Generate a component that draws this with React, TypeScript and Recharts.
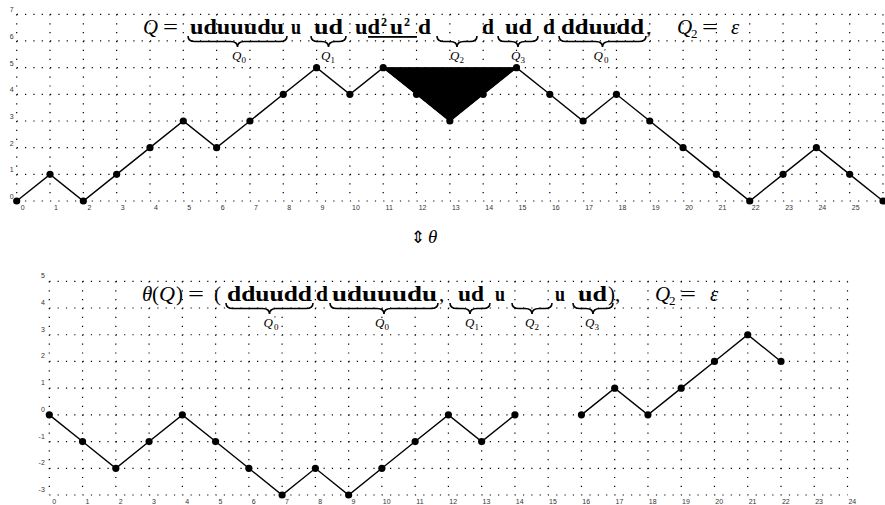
import React from 'react';
import { ComposedChart, Line, Area, XAxis, YAxis, CartesianGrid } from 'recharts';

// ---- Top path Q ----
const topStepX = [0, 1, 2, 3, 4, 5, 6, 7, 8, 9, 10, 11, 12, 13, 14, 15, 16, 17, 18, 19, 20, 21, 22, 23, 24, 25, 26];
const topHeight = [0, 1, 0, 1, 2, 3, 2, 3, 4, 5, 4, 5, 4, 3, 4, 5, 4, 3, 4, 3, 2, 1, 0, 1, 2, 1, 0];
const topXTicks = [0, 1, 2, 3, 4, 5, 6, 7, 8, 9, 10, 11, 12, 13, 14, 15, 16, 17, 18, 19, 20, 21, 22, 23, 24, 25, 26];
const topYTicks = [0, 1, 2, 3, 4, 5, 6, 7];

// filled triangle (x, lower, upper)
const triX = [11, 13, 15];
const triLow = [5, 3, 5];
const triHigh = [5, 5, 5];

// ---- Bottom path theta(Q) ----
const botStepX = [0, 1, 2, 3, 4, 5, 6, 7, 8, 9, 10, 11, 12, 13, 14, 15, 16, 17, 18, 19, 20, 21, 22];
const botHeight: (number | null)[] = [0, -1, -2, -1, 0, -1, -2, -3, -2, -3, -2, -1, 0, -1, 0, null, 0, 1, 0, 1, 2, 3, 2];
const botXTicks = [0, 1, 2, 3, 4, 5, 6, 7, 8, 9, 10, 11, 12, 13, 14, 15, 16, 17, 18, 19, 20, 21, 22, 23, 24];
const botYTicks = [-3, -2, -1, 0, 1, 2, 3, 4, 5];

const topData = topStepX.map((x, i) => ({ x, y: topHeight[i] }));
const triData = triX.map((x, i) => ({ x, band: [triLow[i], triHigh[i]] }));
const botData = botStepX.map((x, i) => ({ x, y: botHeight[i] }));

const tickFont = 'Liberation Sans, Arial, sans-serif';
const serif = 'Liberation Serif, Times New Roman, serif';

const makeXTick = (dx: number, dy: number) => (props: any) => {
  const { x, y, payload } = props;
  return (
    <text x={x + dx} y={y + dy} fontSize={7} textAnchor="middle" fill="#333" fontFamily={tickFont}>
      {payload.value}
    </text>
  );
};
const makeYTick = (dx: number, dy: number) => (props: any) => {
  const { x, y, payload } = props;
  return (
    <text x={x + dx} y={y + dy} fontSize={7} textAnchor="end" fill="#333" fontFamily={tickFont}>
      {payload.value}
    </text>
  );
};

const dotStyle = { r: 3.6, fill: '#000', stroke: '#000', strokeWidth: 0 };

function bracePath(x1: number, x2: number, y: number, h: number) {
  const m = (x1 + x2) / 2;
  const q = h / 2;
  const r = Math.min(7, (x2 - x1) / 4);
  return `M${x1},${y} Q${x1},${y + q} ${x1 + r},${y + q} L${m - r},${y + q} Q${m},${y + q} ${m},${y + h} Q${m},${y + q} ${m + r},${y + q} L${x2 - r},${y + q} Q${x2},${y + q} ${x2},${y}`;
}

const Brace = ({ x1, x2, y }: { x1: number; x2: number; y: number }) => (
  <path d={bracePath(x1, x2, y, 11)} stroke="#000" strokeWidth={1.6} fill="none" />
);

const B = ({ x, y, w, t }: { x: number; y: number; w: number; t: string }) => (
  <text x={x} y={y} textLength={w} lengthAdjust="spacingAndGlyphs" fontWeight="bold" fontSize={21} fontFamily={serif}>
    {t}
  </text>
);

const Lbl = ({ cx, y, sub, prime }: { cx: number; y: number; sub: string; prime?: boolean }) =>
  prime ? (
    <g>
      <text x={cx - 2} y={y} textAnchor="end" fontSize={13} fontStyle="italic" fontFamily={serif}>Q</text>
      <text x={cx - 1} y={y - 5} fontSize={9} fontFamily={serif}>′</text>
      <text x={cx - 1} y={y + 3} fontSize={9} fontFamily={serif}>{sub}</text>
    </g>
  ) : (
    <text x={cx} y={y} textAnchor="middle" fontSize={13} fontStyle="italic" fontFamily={serif}>
      Q<tspan fontStyle="normal" fontSize={9} dy={3}>{sub}</tspan>
    </text>
  );

const Overlay = () => {
  const y1 = 34;
  const yb1 = 36;
  const yl1 = 60;
  const y2 = 301;
  const yb2 = 303;
  const yl2 = 327;
  return (
    <svg width={885} height={505} style={{ position: 'absolute', left: 0, top: 0, pointerEvents: 'none' }}>
      {/* top formula */}
      <text x={143} y={y1} fontSize={21} fontStyle="italic" fontFamily={serif} textLength={15} lengthAdjust="spacingAndGlyphs">Q</text>
      <text x={163} y={y1} fontSize={21} fontFamily={serif} textLength={15} lengthAdjust="spacingAndGlyphs">=</text>
      <B x={190} y={y1} w={94} t="uduuudu" />
      <B x={291} y={y1} w={10} t="u" />
      <B x={314} y={y1} w={29} t="ud" />
      <B x={355} y={y1} w={25} t="ud" />
      <text x={381} y={y1 - 8} fontSize={12} fontWeight="bold" fontFamily={serif}>2</text>
      <B x={390} y={y1} w={13} t="u" />
      <text x={404} y={y1 - 8} fontSize={12} fontWeight="bold" fontFamily={serif}>2</text>
      <B x={418} y={y1} w={13} t="d" />
      <rect x={368} y={36} width={49} height={1.8} fill="#000" />
      <B x={482} y={y1} w={12} t="d" />
      <B x={505} y={y1} w={27} t="ud" />
      <B x={543} y={y1} w={12} t="d" />
      <B x={561} y={y1} w={83} t="dduudd" />
      <text x={646} y={y1} fontSize={21} fontFamily={serif}>,</text>
      <text x={677} y={y1} fontSize={21} fontStyle="italic" fontFamily={serif}>Q</text>
      <text x={691} y={y1 + 4} fontSize={13} fontFamily={serif}>2</text>
      <text x={702} y={y1} fontSize={21} fontFamily={serif} textLength={16} lengthAdjust="spacingAndGlyphs">=</text>
      <text x={731} y={y1} fontSize={21} fontStyle="italic" fontFamily={serif}>ε</text>

      <Brace x1={188} x2={287} y={yb1} />
      <Brace x1={311} x2={346} y={yb1} />
      <Brace x1={437} x2={477} y={yb1} />
      <Brace x1={498} x2={538} y={yb1} />
      <Brace x1={559} x2={646} y={yb1} />
      <Lbl cx={239} y={yl1} sub="0" />
      <Lbl cx={328} y={yl1} sub="1" />
      <Lbl cx={457} y={yl1} sub="2" />
      <Lbl cx={518} y={yl1} sub="3" />
      <Lbl cx={605} y={yl1} sub="0" prime />

      {/* middle arrow */}
      <text x={411} y={243} fontSize={17} fontFamily="DejaVu Sans, sans-serif">⇕</text>
      <text x={428} y={243} fontSize={19} fontStyle="italic" fontFamily={serif}>θ</text>

      {/* bottom formula */}
      <text x={142} y={y2} fontSize={21} fontStyle="italic" fontFamily={serif}>θ</text>
      <text x={152} y={y2} fontSize={21} fontFamily={serif}>(</text>
      <text x={159} y={y2} fontSize={21} fontStyle="italic" fontFamily={serif} textLength={16} lengthAdjust="spacingAndGlyphs">Q</text>
      <text x={176} y={y2} fontSize={21} fontFamily={serif}>)</text>
      <text x={188} y={y2} fontSize={21} fontFamily={serif} textLength={16} lengthAdjust="spacingAndGlyphs">=</text>
      <text x={214} y={y2} fontSize={21} fontFamily={serif}>(</text>
      <B x={227} y={y2} w={85} t="dduudd" />
      <B x={316} y={y2} w={12} t="d" />
      <B x={332} y={y2} w={105} t="uduuudu" />
      <text x={439} y={y2} fontSize={21} fontFamily={serif}>,</text>
      <B x={458} y={y2} w={26} t="ud" />
      <B x={495} y={y2} w={10} t="u" />
      <B x={555} y={y2} w={10} t="u" />
      <B x={578} y={y2} w={29} t="ud" />
      <text x={608} y={y2} fontSize={21} fontFamily={serif}>),</text>
      <text x={655} y={y2} fontSize={21} fontStyle="italic" fontFamily={serif}>Q</text>
      <text x={669} y={y2 + 4} fontSize={13} fontFamily={serif}>2</text>
      <text x={680} y={y2} fontSize={21} fontFamily={serif} textLength={16} lengthAdjust="spacingAndGlyphs">=</text>
      <text x={710} y={y2} fontSize={21} fontStyle="italic" fontFamily={serif}>ε</text>

      <Brace x1={226} x2={313} y={yb2} />
      <Brace x1={330} x2={438} y={yb2} />
      <Brace x1={450} x2={490} y={yb2} />
      <Brace x1={512} x2={552} y={yb2} />
      <Brace x1={573} x2={613} y={yb2} />
      <Lbl cx={275} y={yl2} sub="0" prime />
      <Lbl cx={382} y={yl2} sub="0" />
      <Lbl cx={472} y={yl2} sub="1" />
      <Lbl cx={532} y={yl2} sub="2" />
      <Lbl cx={592} y={yl2} sub="3" />
    </svg>
  );
};

export default function App() {
  return (
    <div style={{ position: 'absolute', left: 0, top: 0, width: 885, height: 505, background: '#fff', overflow: 'hidden' }}>
      <div style={{ position: 'absolute', left: 0, top: 0 }}>
        <ComposedChart width={885} height={230} margin={{ top: 14.3, right: 2, bottom: 0, left: 0 }}>
          <XAxis
            type="number"
            dataKey="x"
            domain={[0, 26]}
            ticks={topXTicks}
            interval={0}
            axisLine={false}
            tickLine={false}
            tickSize={0}
            tickMargin={0}
            height={29}
            tick={makeXTick(6, 8.5)}
          />
          <YAxis
            type="number"
            domain={[0, 7]}
            ticks={topYTicks}
            interval={0}
            axisLine={false}
            tickLine={false}
            tickSize={0}
            tickMargin={0}
            width={16.7}
            tick={makeYTick(-3, -2)}
          />
          <CartesianGrid vertical={false} stroke="#000" strokeWidth={1.2} strokeDasharray="1.2 7.13" />
          <CartesianGrid horizontal={false} stroke="#000" strokeWidth={1.2} strokeDasharray="1.2 7.69" />
          <Area
            data={triData}
            dataKey="band"
            type="linear"
            fill="#000"
            fillOpacity={1}
            stroke="#000"
            strokeWidth={1}
            dot={false}
            activeDot={false}
            isAnimationActive={false}
          />
          <Line
            data={topData}
            dataKey="y"
            type="linear"
            stroke="#000"
            strokeWidth={1.4}
            dot={dotStyle}
            activeDot={false}
            isAnimationActive={false}
          />
        </ComposedChart>
      </div>
      <div style={{ position: 'absolute', left: 0, top: 260 }}>
        <ComposedChart width={885} height={245} margin={{ top: 21.3, right: 37.5, bottom: 0, left: 0 }}>
          <XAxis
            type="number"
            dataKey="x"
            domain={[0, 24]}
            ticks={botXTicks}
            interval={0}
            axisLine={false}
            tickLine={false}
            tickSize={0}
            tickMargin={0}
            height={10}
            tick={makeXTick(4.8, 8.5)}
          />
          <YAxis
            type="number"
            domain={[-3, 5]}
            ticks={botYTicks}
            interval={0}
            axisLine={false}
            tickLine={false}
            tickSize={0}
            tickMargin={0}
            width={49.3}
            tick={makeYTick(-4.5, -3)}
          />
          <CartesianGrid vertical={false} stroke="#000" strokeWidth={1.2} strokeDasharray="1.2 7.11" />
          <CartesianGrid horizontal={false} stroke="#000" strokeWidth={1.2} strokeDasharray="1.2 7.69" />
          <Line
            data={botData}
            dataKey="y"
            type="linear"
            stroke="#000"
            strokeWidth={1.4}
            dot={dotStyle}
            activeDot={false}
            connectNulls={false}
            isAnimationActive={false}
          />
        </ComposedChart>
      </div>
      <Overlay />
    </div>
  );
}
